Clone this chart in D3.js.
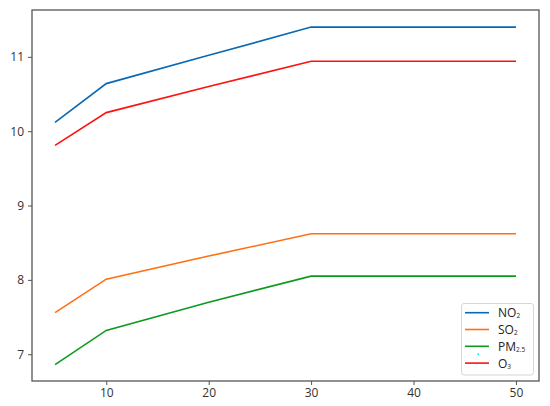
<!DOCTYPE html>
<html><head><meta charset="utf-8">
<script src="https://cdn.jsdelivr.net/npm/d3@7"></script>
<style>body{margin:0;background:#fff}svg{display:block}</style>
</head><body>
<svg id="c" width="550" height="406"></svg>
<script>
const xValues = [5, 10, 20, 30, 40, 50];
const no2 = [10.12, 10.64, 11.02, 11.40, 11.40, 11.40];
const so2 = [7.56, 8.01, 8.32, 8.62, 8.62, 8.62];
const pm25 = [6.86, 7.32, 7.70, 8.05, 8.05, 8.05];
const o3 = [9.81, 10.25, 10.60, 10.94, 10.94, 10.94];
const xTicks = [10, 20, 30, 40, 50];
const yTicks = [7, 8, 9, 10, 11];
const seriesNames = [["NO", "2"], ["SO", "2"], ["PM", "2.5"], ["O", "3"]];
const seriesData = [no2, so2, pm25, o3];
const colors = ["#0868b4", "#ff7010", "#0c9a1c", "#ff1010"];

const svg = d3.select("#c");
const L = 32, R = 539, T = 10, B = 381;
const x = d3.scaleLinear().domain([2.75, 52.25]).range([L, R]);
const y = d3.scaleLinear().domain([6.64, 11.63]).range([B, T]);

const font = "'Open Sans', 'Noto Sans', sans-serif";

seriesData.forEach((vals, i) => {
  const line = d3.line().x((d, j) => x(xValues[j])).y(d => y(d));
  svg.append("path").datum(vals).attr("d", line)
    .attr("fill", "none").attr("stroke", colors[i]).attr("stroke-width", 1.6);
});

const xAxis = svg.append("g").attr("transform", `translate(0,${B})`)
  .call(d3.axisBottom(x).tickValues(xTicks).tickSize(4).tickPadding(3).tickFormat(d3.format("d")));
const yAxis = svg.append("g").attr("transform", `translate(${L},0)`)
  .call(d3.axisLeft(y).tickValues(yTicks).tickSize(4).tickPadding(4).tickFormat(d3.format("d")));
[xAxis, yAxis].forEach(g => {
  g.select(".domain").remove();
  g.selectAll(".tick line").attr("stroke", "#555");
  g.selectAll("text").attr("font-family", font).attr("font-size", 12).attr("fill", "#333");
});

svg.append("rect").attr("x", L).attr("y", T).attr("width", R - L).attr("height", B - T)
  .attr("fill", "none").attr("stroke", "#555").attr("stroke-width", 1.3);

// legend
const lg = svg.append("g");
lg.append("rect").attr("x", 461.5).attr("y", 303.5).attr("width", 72).attr("height", 71.5)
  .attr("rx", 2.5).attr("fill", "#fff").attr("stroke", "#d6d6d6").attr("stroke-width", 1);
seriesNames.forEach((nm, i) => {
  const yy = 312.7 + i * 16.8;
  lg.append("line").attr("x1", 465).attr("x2", 489).attr("y1", yy).attr("y2", yy)
    .attr("stroke", colors[i]).attr("stroke-width", 1.6);
  const t = lg.append("text").attr("x", 498).attr("y", yy + 4.5)
    .attr("font-family", font).attr("font-size", 12).attr("fill", "#222");
  t.append("tspan").text(nm[0]);
  t.append("tspan").attr("font-size", 6.5).attr("dy", 1).text(nm[1]);
});
lg.append("rect").attr("x", 477.5).attr("y", 353.5).attr("width", 1.5).attr("height", 1.5).attr("fill", "#00e0e0");
</script>
</body></html>
